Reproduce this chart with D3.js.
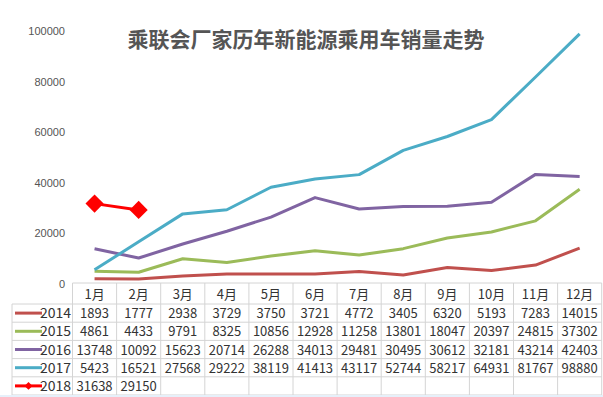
<!DOCTYPE html>
<html>
<head>
<meta charset="utf-8">
<script src="https://cdn.jsdelivr.net/npm/d3@7"></script>
<style>
  body { margin: 0; background: #fff; }
  svg { display: block; }
</style>
</head>
<body>
<svg id="chart" width="603" height="397"></svg>
<script>
var months = ['1月','2月','3月','4月','5月','6月','7月','8月','9月','10月','11月','12月'];
var years = ['2014','2015','2016','2017','2018'];
var sales2014 = [1893, 1777, 2938, 3729, 3750, 3721, 4772, 3405, 6320, 5193, 7283, 14015];
var sales2015 = [4861, 4433, 9791, 8325, 10856, 12928, 11258, 13801, 18047, 20397, 24815, 37302];
var sales2016 = [13748, 10092, 15623, 20714, 26288, 34013, 29481, 30495, 30612, 32181, 43214, 42403];
var sales2017 = [5423, 16521, 27568, 29222, 38119, 41413, 43117, 52744, 58217, 64931, 81767, 98880];
var sales2018 = [31638, 29150];
var yTicks = [0, 20000, 40000, 60000, 80000, 100000];
var colors = ['#c0504d', '#9bbb59', '#8064a2', '#4bacc6', '#ff0000'];
var title = '乘联会厂家历年新能源乘用车销量走势';

var series = [sales2014, sales2015, sales2016, sales2017, sales2018];

var svg = d3.select('#chart');
var tableLeft = 12, colStart = 72.5, colEnd = 601.7;
var headTop = 283, headBot = 304, rowH = 18.2;

var x = d3.scaleBand().domain(months).range([colStart, colEnd]);
var y = d3.scaleLinear().domain([0, 100000]).range([283.5, 31]);

// title
svg.append('text')
  .attr('x', 306).attr('y', 47)
  .attr('text-anchor', 'middle')
  .style('font-family', '"Noto Sans CJK SC", sans-serif')
  .style('font-size', '21px')
  .style('font-weight', 'bold')
  .style('fill', '#555')
  .text(title);

// y axis, labels only
var yAxis = d3.axisLeft(y).tickValues(yTicks).tickFormat(d3.format('d')).tickSize(0).tickPadding(0);
var yg = svg.append('g').attr('transform', 'translate(65,0)').call(yAxis);
yg.select('.domain').remove();
yg.selectAll('text')
  .style('font-family', '"Liberation Sans", Arial, sans-serif')
  .style('font-size', '11px')
  .style('fill', '#555');

// lines
var line = d3.line()
  .x(function(d, i) { return x(months[i]) + x.bandwidth() / 2; })
  .y(function(d) { return y(d); });

series.forEach(function(s, k) {
  svg.append('path')
    .datum(s)
    .attr('d', line)
    .attr('fill', 'none')
    .attr('stroke', colors[k])
    .attr('stroke-width', 3)
    .attr('stroke-linejoin', 'round');
});

// 2018 diamonds
svg.selectAll('.dia')
  .data(sales2018)
  .enter().append('path')
  .attr('class', 'dia')
  .attr('d', d3.symbol().type(d3.symbolDiamond2).size(210))
  .attr('transform', function(d, i) {
    return 'translate(' + (x(months[i]) + x.bandwidth() / 2) + ',' + y(d) + ')';
  })
  .attr('fill', '#ff0000');

// table
var grid = '#d4d4d4';
var tbl = svg.append('g');
var tableBottom = headBot + rowH * years.length;

// horizontal lines
tbl.append('line').attr('x1', colStart).attr('x2', colEnd).attr('y1', headTop).attr('y2', headTop).attr('stroke', grid);
d3.range(years.length + 1).forEach(function(r) {
  var yy = headBot + r * rowH;
  tbl.append('line').attr('x1', tableLeft).attr('x2', colEnd).attr('y1', yy).attr('y2', yy).attr('stroke', grid);
});
// vertical lines
tbl.append('line').attr('x1', tableLeft).attr('x2', tableLeft).attr('y1', headBot).attr('y2', tableBottom).attr('stroke', grid);
months.forEach(function(m) {
  tbl.append('line').attr('x1', x(m)).attr('x2', x(m)).attr('y1', headTop).attr('y2', tableBottom).attr('stroke', grid);
});
tbl.append('line').attr('x1', colEnd).attr('x2', colEnd).attr('y1', headTop).attr('y2', tableBottom).attr('stroke', grid);

var txtFont = '"Noto Sans CJK SC", sans-serif';

// header
tbl.selectAll('.mh')
  .data(months)
  .enter().append('text')
  .attr('x', function(d) { return x(d) + x.bandwidth() / 2; })
  .attr('y', headTop + 16)
  .attr('text-anchor', 'middle')
  .style('font-family', txtFont)
  .style('font-size', '13px')
  .style('fill', '#333')
  .text(function(d) { return d; });

// rows
years.forEach(function(yr, k) {
  var cy = headBot + k * rowH + rowH / 2;
  tbl.append('line')
    .attr('x1', 15).attr('x2', 42)
    .attr('y1', cy).attr('y2', cy)
    .attr('stroke', colors[k]).attr('stroke-width', 3);
  if (k === 4) {
    tbl.append('path')
      .attr('d', d3.symbol().type(d3.symbolDiamond2).size(40))
      .attr('transform', 'translate(28.5,' + cy + ')')
      .attr('fill', colors[k]);
  }
  tbl.append('text')
    .attr('x', 71).attr('y', cy + 5)
    .attr('text-anchor', 'end')
    .style('font-family', txtFont)
    .style('font-size', '14px')
    .style('fill', '#333')
    .text(yr);
  tbl.selectAll('.v' + yr)
    .data(series[k])
    .enter().append('text')
    .attr('x', function(d, i) { return x(months[i]) + x.bandwidth() / 2; })
    .attr('y', cy + 5)
    .attr('text-anchor', 'middle')
    .style('font-family', txtFont)
    .style('font-size', '13px')
    .style('fill', '#333')
    .text(function(d) { return d; });
});

// bottom strip
svg.append('rect')
  .attr('x', 0).attr('y', 395).attr('width', 603).attr('height', 2)
  .attr('fill', '#e6f0fa');
</script>
</body>
</html>
